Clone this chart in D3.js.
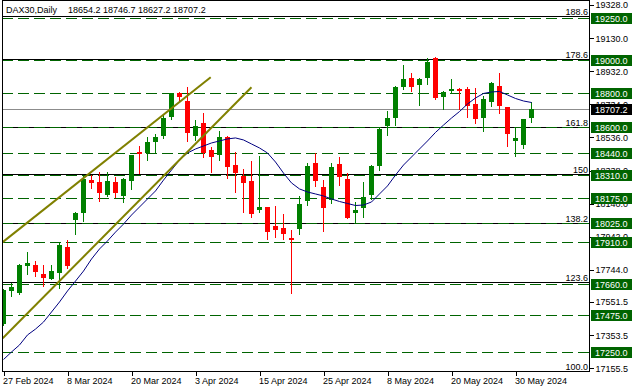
<!DOCTYPE html>
<html>
<head>
<meta charset="utf-8">
<script src="https://cdn.jsdelivr.net/npm/d3@7"></script>
<style>
  html, body { margin: 0; padding: 0; background: #ffffff; }
  svg { display: block; }
  text { font-family: "Liberation Sans", Arial, sans-serif; }
</style>
</head>
<body>
<div id="chart"></div>
<script>
// --- data ---
const symbolName = 'DAX30,Daily';
const symbolQuote = '18654.2 18746.7 18627.2 18707.2';

// date labels on the time axis (bar index -> text)
const tickIndex = [0, 8, 16, 24, 32, 40, 48, 56, 64];
const tickDates = ['27 Feb 2024', '8 Mar 2024', '20 Mar 2024', '3 Apr 2024', '15 Apr 2024',
  '25 Apr 2024', '8 May 2024', '20 May 2024', '30 May 2024'];

// daily OHLC, 27 Feb 2024 .. 3 Jun 2024
const opens = [17419, 17620, 17606, 17769, 17771, 17719, 17691, 17727, 17879, 18044,
  18086, 18282, 18270, 18192, 18270, 18188, 18277, 18451, 18441, 18511,
  18545, 18656, 18800, 18754, 18545, 18621, 18461, 18431, 18537, 18371,
  18305, 18276, 18104, 18120, 18006, 17995, 17935, 17990, 18158, 18383,
  18240, 18162, 18377, 18288, 18082, 18116, 18192, 18367, 18604, 18654,
  18839, 18892, 18850, 18893, 19009, 18780, 18816, 18826, 18826, 18736,
  18654, 18750, 18844, 18720, 18517, 18491, 18654.2];
const highs = [17630, 17664, 17779, 17853, 17797, 17773, 17773, 17903, 17923, 18092,
  18307, 18311, 18328, 18328, 18298, 18294, 18433, 18485, 18540, 18557,
  18670, 18802, 18810, 18839, 18640, 18680, 18477, 18575, 18545, 18451,
  18346, 18395, 18425, 18122, 18126, 18078, 17983, 18186, 18385, 18441,
  18282, 18383, 18419, 18322, 18148, 18271, 18371, 18597, 18694, 18845,
  18969, 18923, 18893, 19009, 19019, 18811, 18886, 18834, 18839, 18834,
  18784, 18869, 18920, 18721, 18594, 18648, 18746.7];
const lows = [17414, 17590, 17602, 17718, 17707, 17649, 17689, 17634, 17757, 17957,
  18038, 18236, 18158, 18186, 18180, 18152, 18230, 18325, 18401, 18451,
  18535, 18646, 18760, 18515, 18521, 18421, 18331, 18404, 18295, 18212,
  18092, 18062, 18092, 17931, 17942, 17927, 17604, 17959, 18134, 18246,
  17978, 18146, 18252, 18054, 18029, 18060, 18166, 18341, 18551, 18610,
  18824, 18814, 18730, 18854, 18766, 18704, 18800, 18706, 18660, 18621,
  18576, 18726, 18680, 18485, 18425, 18471, 18627.2];
const closes = [17624, 17642, 17773, 17783, 17733, 17697, 17737, 17893, 17767, 18084,
  18288, 18265, 18206, 18276, 18202, 18288, 18431, 18441, 18509, 18539,
  18651, 18800, 18780, 18564, 18604, 18441, 18421, 18539, 18361, 18325,
  18265, 18078, 18120, 17972, 17983, 17959, 17925, 18138, 18365, 18277,
  18116, 18359, 18301, 18056, 18102, 18180, 18365, 18588, 18652, 18839,
  18886, 18839, 18886, 18987, 18774, 18810, 18826, 18816, 18724, 18648,
  18766, 18860, 18726, 18557, 18533, 18645, 18707.2];

// moving average line (navy), one value per bar
const maValues = [17208, 17253, 17295, 17355, 17390, 17432, 17492, 17552, 17618, 17677,
  17737, 17809, 17869, 17917, 17970, 18018, 18072, 18120, 18168, 18216,
  18281, 18341, 18401, 18443, 18467, 18485, 18503, 18515, 18527, 18533,
  18521, 18497, 18473, 18443, 18389, 18323, 18264, 18228, 18210, 18198,
  18186, 18168, 18153, 18141, 18129, 18132, 18150, 18198, 18246, 18311,
  18371, 18419, 18467, 18515, 18566, 18610, 18652, 18691, 18736, 18772,
  18799, 18808, 18811, 18790, 18769, 18754, 18745];

// support / resistance levels (green dashed + green price tag)
const levelPrices = [19250, 19000, 18800, 18600, 18440, 18310, 18175, 18025, 17910, 17660, 17475, 17250];

// fibonacci lines (black) with their labels
const fibNames = ['188.6', '178.6', '161.8', '150', '138.2', '123.6', '100.0'];
const fibPrices = [19260, 19008, 18600, 18317, 18025, 17673, 17142];

// olive channel lines: [barIndex, price] end points
const upperChannel = [[-0.1, 17910], [25.9, 18896]];
const lowerChannel = [[-0.1, 17335], [31.0, 18836]];

// price scale labels on the right
const priceTicks = [19328.0, 19130.0, 18932.0, 18734.0, 18536.0, 18338.0, 18140.0,
  17942.0, 17744.0, 17551.5, 17353.5, 17155.5];
const lastPrice = 18707.2;

// --- layout ---
const W = 635, H = 392;
const plot = { left: 2, right: 589, top: 0, bottom: 371 };
const FONT = '"Liberation Sans", Arial, sans-serif';

const svg = d3.select('#chart').append('svg')
  .attr('width', W).attr('height', H)
  .attr('viewBox', `0 0 ${W} ${H}`);

const x = d3.scaleLinear().domain([0, 66]).range([3.5, 531.5]);
const y = d3.scaleLinear().domain([17155.5, 19328]).range([368.3, 5]);
const py = v => Math.round(y(v)) + 0.5;   // crisp horizontal lines

svg.append('defs').append('clipPath').attr('id', 'plotClip')
  .append('rect')
  .attr('x', plot.left).attr('y', plot.top)
  .attr('width', plot.right - plot.left).attr('height', plot.bottom - plot.top);

const gPlot = svg.append('g').attr('clip-path', 'url(#plotClip)');

// fib lines (black, solid)
gPlot.append('g').selectAll('line')
  .data(fibPrices)
  .join('line')
  .attr('x1', plot.left).attr('x2', plot.right)
  .attr('y1', d => py(d)).attr('y2', d => py(d))
  .attr('stroke', '#000000').attr('stroke-width', 1)
  .attr('shape-rendering', 'crispEdges');

// levels (dark green, dashed) - on top of the fib lines
gPlot.append('g').selectAll('line')
  .data(levelPrices)
  .join('line')
  .attr('x1', plot.left).attr('x2', plot.right)
  .attr('y1', d => py(d)).attr('y2', d => py(d))
  .attr('stroke', '#006400').attr('stroke-width', 1)
  .attr('stroke-dasharray', '11,5')
  .attr('shape-rendering', 'crispEdges');

// current price line
gPlot.append('line')
  .attr('x1', plot.left).attr('x2', plot.right)
  .attr('y1', py(lastPrice)).attr('y2', py(lastPrice))
  .attr('stroke', '#8c8c8c').attr('stroke-width', 1)
  .attr('shape-rendering', 'crispEdges');

// candles
const bars = opens.map((o, i) => ({ i, o, h: highs[i], l: lows[i], c: closes[i] }));
const gCandles = gPlot.append('g').attr('class', 'candles');

gCandles.selectAll('line.wick')
  .data(bars)
  .join('line')
  .attr('class', 'wick')
  .attr('x1', d => x(d.i)).attr('x2', d => x(d.i))
  .attr('y1', d => Math.round(y(d.h))).attr('y2', d => Math.round(y(d.l)) + 1)
  .attr('stroke', d => d.c >= d.o ? '#008000' : '#ff0000')
  .attr('stroke-width', 1)
  .attr('shape-rendering', 'crispEdges');

gCandles.selectAll('rect.body')
  .data(bars)
  .join('rect')
  .attr('class', 'body')
  .attr('x', d => x(d.i) - 2.5)
  .attr('width', 5)
  .attr('y', d => Math.round(y(Math.max(d.o, d.c))))
  .attr('height', d => Math.max(2, Math.round(y(Math.min(d.o, d.c))) - Math.round(y(Math.max(d.o, d.c)))))
  .attr('fill', d => d.c >= d.o ? '#008000' : '#ff0000')
  .attr('shape-rendering', 'crispEdges');

// moving average
gPlot.append('path')
  .datum(maValues)
  .attr('fill', 'none')
  .attr('stroke', '#000080')
  .attr('stroke-width', 1)
  .attr('d', d3.line().x((d, i) => x(i)).y(d => y(d)));

// channel lines
const chLine = d3.line().x(d => x(d[0])).y(d => y(d[1]));
gPlot.append('g').selectAll('path')
  .data([upperChannel, lowerChannel])
  .join('path')
  .attr('fill', 'none')
  .attr('stroke', '#808000')
  .attr('stroke-width', 2)
  .attr('d', chLine);

// fib labels, right aligned above their line
svg.append('g').selectAll('text')
  .data(fibPrices)
  .join('text')
  .attr('x', plot.right - 1)
  .attr('y', d => Math.min(py(d) - 1.5, plot.bottom - 0.5))
  .attr('text-anchor', 'end')
  .attr('font-size', 9)
  .attr('fill', '#000000')
  .text((d, k) => fibNames[k]);

// title (name + OHLC of the last bar)
svg.append('text')
  .attr('x', 6).attr('y', 13)
  .attr('font-size', 9)
  .attr('fill', '#000000')
  .text(symbolName);
svg.append('text')
  .attr('x', 68).attr('y', 13)
  .attr('font-size', 9)
  .attr('fill', '#000000')
  .text(symbolQuote);

// frame
const frame = svg.append('g').attr('shape-rendering', 'crispEdges');
frame.append('line').attr('x1', plot.left + 0.5).attr('x2', plot.left + 0.5)
  .attr('y1', plot.top).attr('y2', plot.bottom + 0.5).attr('stroke', '#000');
frame.append('line').attr('x1', plot.left).attr('x2', plot.right)
  .attr('y1', plot.top + 0.5).attr('y2', plot.top + 0.5).attr('stroke', '#000');

// ---- X axis ----
const xAxis = d3.axisBottom(x)
  .tickValues(tickIndex)
  .tickSize(4)
  .tickFormat((d, k) => tickDates[k]);

svg.append('g')
  .attr('transform', `translate(0, ${plot.bottom + 0.5})`)
  .call(xAxis)
  .call(g => {
    g.select('.domain').remove();
    g.selectAll('.tick line').attr('stroke', '#000').attr('shape-rendering', 'crispEdges');
    g.selectAll('.tick text')
      .attr('text-anchor', 'start')
      .attr('x', -1)
      .attr('y', 6)
      .attr('font-family', FONT)
      .attr('font-size', 9)
      .attr('fill', '#000');
  });
svg.append('line')
  .attr('x1', plot.left).attr('x2', plot.right + 1)
  .attr('y1', plot.bottom + 0.5).attr('y2', plot.bottom + 0.5)
  .attr('stroke', '#000').attr('shape-rendering', 'crispEdges');

// ---- Y axis (right) ----
const yAxis = d3.axisRight(y)
  .tickValues(priceTicks)
  .tickSize(4)
  .tickFormat(d3.format('.1f'));

svg.append('g')
  .attr('transform', `translate(${plot.right + 0.5}, 0)`)
  .call(yAxis)
  .call(g => {
    g.select('.domain').remove();
    g.selectAll('.tick line').attr('stroke', '#000').attr('shape-rendering', 'crispEdges');
    g.selectAll('.tick text')
      .attr('x', 6)
      .attr('font-family', FONT)
      .attr('font-size', 9)
      .attr('fill', '#000');
  });
svg.append('line')
  .attr('x1', plot.right + 0.5).attr('x2', plot.right + 0.5)
  .attr('y1', plot.top).attr('y2', plot.bottom + 1)
  .attr('stroke', '#000').attr('shape-rendering', 'crispEdges');

// price tags: levels in green, last price in black (drawn over the scale labels)
const tags = levelPrices.map(p => ({ p, fill: '#006400' }))
  .concat([{ p: lastPrice, fill: '#000000' }]);
const gTags = svg.append('g').selectAll('g')
  .data(tags)
  .join('g')
  .attr('transform', d => `translate(${plot.right + 2}, ${Math.round(y(d.p))})`);
gTags.append('rect')
  .attr('x', 0).attr('y', -5).attr('width', 41).attr('height', 11)
  .attr('fill', d => d.fill);
gTags.append('text')
  .attr('x', 4).attr('y', 3.5)
  .attr('font-size', 9)
  .attr('fill', '#ffffff')
  .text(d => d3.format('.1f')(d.p));
</script>
</body>
</html>
